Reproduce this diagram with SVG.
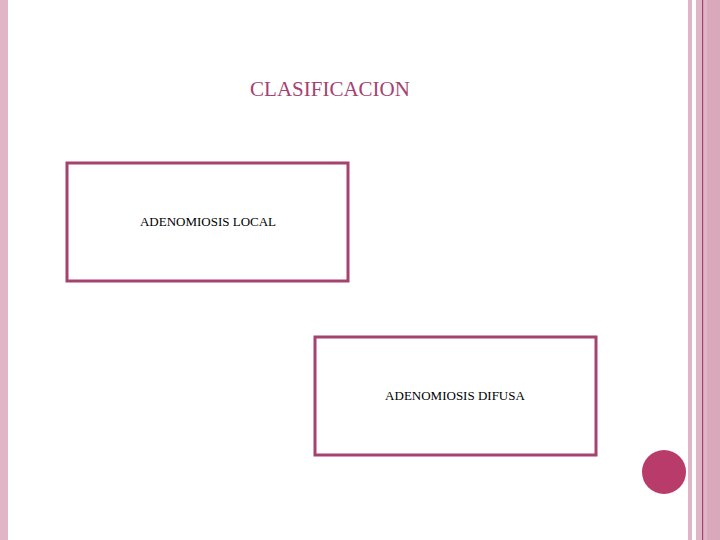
<svg xmlns="http://www.w3.org/2000/svg" width="720" height="540" viewBox="0 0 720 540">
<style>
.box{fill:#fff;stroke:#a5426f;stroke-width:3}
.t{font-family:"Liberation Serif",serif;font-size:13px;fill:#000}
.s{fill:#e0b6c6}
</style>
<rect width="720" height="540" fill="#fff"/>
<rect class="s" x="0" y="0" width="8" height="540"/>
<rect class="s" x="688" y="0" width="4" height="540"/>
<rect class="s" x="696" y="0" width="24" height="540"/>
<rect x="707" y="0" width="13" height="540" fill="#d9a9bb"/>
<rect x="702" y="0" width="1.2" height="540" fill="#a5426f"/>
<text x="330" y="96" text-anchor="middle" font-family="Liberation Serif,serif" font-size="21" fill="#a5426f">CLASIFICACION</text>
<g id="n1"><rect class="box" x="67" y="163" width="281" height="118"/><text class="t" x="208" y="226" text-anchor="middle">ADENOMIOSIS LOCAL</text></g>
<g id="n2"><rect class="box" x="315" y="337" width="281" height="118"/><text class="t" x="455" y="400" text-anchor="middle">ADENOMIOSIS DIFUSA</text></g>
<g id="connectors"></g>
<circle cx="664" cy="472" r="22" fill="#b83b6a"/>
</svg>
